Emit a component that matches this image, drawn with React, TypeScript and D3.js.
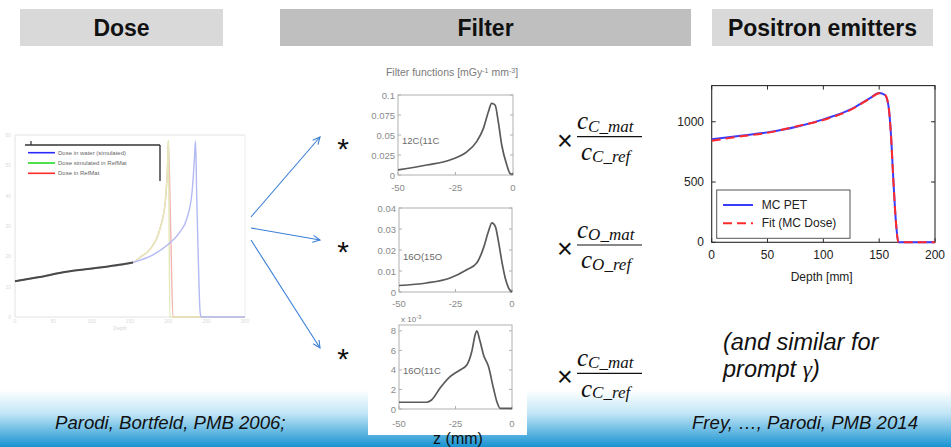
import React from 'react';
import * as d3 from 'd3';

const W = 951;
const H = 447;
const SANS = "'Liberation Sans', Arial, sans-serif";
const SERIF = "'Liberation Serif', 'DejaVu Serif', serif";

// ---------- header ----------
const headerLabels = ['Dose', 'Filter', 'Positron emitters'];

// ---------- dose panel (faded MATLAB figure): depth [mm] vs dose [a.u.] ----------
const doseXTicks = [0, 50, 100, 150, 200, 250, 300];
const doseYTicks = [0, 1, 2, 3, 4, 5, 6];
const doseLegendLabels = ['Dose in water (simulated)', 'Dose simulated in RefMat', 'Dose in RefMat'];
const doseCommon: [number, number][] = [[0, 1.18], [30, 1.31], [67, 1.49], [111, 1.63], [154, 1.8]];
const doseWater: [number, number][] = [
  [0, 1.18], [30, 1.31], [67, 1.49], [111, 1.63], [154, 1.8], [180, 2.05], [200, 2.4], [215, 2.8],
  [224, 3.23], [231, 4.13], [234, 5.2], [235.5, 5.8], [237, 4.0], [239, 2.0], [241.5, 0.15], [243, 0], [300, 0],
];
const doseSimRef: [number, number][] = [
  [0, 1.18], [30, 1.31], [67, 1.49], [111, 1.63], [154, 1.8], [165, 2.0], [176, 2.23], [189, 2.9],
  [196, 3.8], [199, 5.0], [200, 5.8], [201, 3.0], [202, 0], [300, 0],
];
const doseRef: [number, number][] = [
  [0, 1.18], [30, 1.31], [67, 1.49], [111, 1.63], [154, 1.8], [165, 2.0], [176, 2.23], [189, 2.9],
  [196, 3.8], [199, 5.0], [200, 5.8], [203, 3.0], [206, 0], [300, 0],
];

// ---------- filter functions (z in mm) ----------
const filterXTicks = [-50, -25, 0];
const filter12C11C: [number, number][] = [
  [-50, 0.0063], [-37.5, 0.0125], [-27.4, 0.0188], [-20.1, 0.029], [-15.8, 0.0417], [-12.9, 0.058],
  [-10.7, 0.079], [-9.3, 0.0896], [-7.8, 0.0875], [-6.4, 0.0667], [-4.9, 0.0375], [-2.7, 0.0125],
  [-1.3, 0.002], [0, 0.001],
];
const filter16O15O: [number, number][] = [
  [-50, 0.0031], [-37.8, 0.0043], [-27.4, 0.0067], [-20, 0.0106], [-15.6, 0.0138], [-12.6, 0.021],
  [-10.4, 0.0289], [-8.9, 0.0329], [-7.4, 0.0312], [-6, 0.0241], [-4.5, 0.0146], [-3, 0.0067],
  [-1.5, 0.0019], [0, 0],
];
const filter16O11C: [number, number][] = [
  [-50, 0.69], [-37.8, 0.69], [-35.6, 0.92], [-31.9, 2.12], [-27.4, 3.31], [-23, 4.0], [-20, 4.5],
  [-17.8, 5.88], [-16.3, 7.59], [-15.6, 8.0], [-14.1, 6.9], [-12.6, 5.54], [-10.4, 4.34], [-8.2, 2.12],
  [-6.7, 0.75], [-5.2, 0.07], [0, 0.07],
];
const filterYTicks1 = [0, 0.025, 0.05, 0.075, 0.1];
const filterYTickLabels1 = ['0', '0.025', '0.05', '0.075', '0.1'];
const filterYTicks2 = [0, 0.01, 0.02, 0.03, 0.04];
const filterYTickLabels2 = ['0', '0.01', '0.02', '0.03', '0.04'];
const filterYTicks3 = [0, 2, 4, 6, 8];
const filterYTickLabels3 = ['0', '2', '4', '6', '8'];
const filterLabels = ['12C(11C', '16O(15O', '16O(11C'];

// ---------- positron emitters (depth in mm) ----------
const petXTicks = [0, 50, 100, 150, 200];
const petYTicks = [0, 500, 1000];
const petLegendLabels = ['MC PET', 'Fit (MC Dose)'];
const mcPet: [number, number][] = [
  [0, 855], [22.4, 880], [49.8, 912], [76.1, 958], [101.5, 1024], [123.9, 1100], [141.8, 1196],
  [150.1, 1238], [155.2, 1222], [158.2, 1139], [160.3, 932], [162.7, 517], [165.1, 158], [167.2, 0], [200, 0],
];
const fitMcDose: [number, number][] = [
  [0, 842], [22.4, 874], [49.8, 908], [76.1, 962], [101.5, 1019], [123.9, 1096], [141.8, 1194],
  [150.1, 1237], [155.2, 1223], [158.2, 1140], [160.3, 930], [162.7, 515], [165.1, 156], [167.2, 0], [200, 0],
];

type P = [number, number];

function FilterPlot(props: {
  data: P[]; x0: number; x1: number; yTop: number; yBot: number; yMax: number;
  yTicks: number[]; yLabels: string[]; label: string; labelY: number; xLabelY: number;
}) {
  const { data, x0, x1, yTop, yBot, yMax, yTicks, yLabels, label, labelY, xLabelY } = props;
  const x = d3.scaleLinear().domain([-50, 0]).range([x0, x1]);
  const y = d3.scaleLinear().domain([0, yMax]).range([yBot, yTop]);
  const line = d3.line<P>().x(d => x(d[0])).y(d => y(d[1])).curve(d3.curveMonotoneX);
  const tc = '#8a8a8a';
  return (
    <g>
      <rect x={x0} y={yTop} width={x1 - x0} height={yBot - yTop} fill="white" stroke="#b0b0b0" strokeWidth={1} />
      {yTicks.map((t, i) => (
        <g key={'y' + i}>
          <line x1={x0} x2={x0 + 3} y1={y(t)} y2={y(t)} stroke="#b0b0b0" />
          <line x1={x1} x2={x1 - 3} y1={y(t)} y2={y(t)} stroke="#b0b0b0" />
          <text x={x0 - 3} y={y(t)} textAnchor="end" dominantBaseline="central" fontSize={9.5} fill={tc} fontFamily={SANS}>{yLabels[i]}</text>
        </g>
      ))}
      {filterXTicks.map((t, i) => (
        <g key={'x' + i}>
          <line x1={x(t)} x2={x(t)} y1={yBot} y2={yBot - 3} stroke="#b0b0b0" />
          <text x={x(t)} y={xLabelY} textAnchor="middle" dominantBaseline="central" fontSize={9.5} fill={tc} fontFamily={SANS}>{t === 0 ? '0' : String(t)}</text>
        </g>
      ))}
      <path d={line(data) || ''} fill="none" stroke="#5a5a5a" strokeWidth={1.7} strokeLinejoin="round" />
      <text x={x0 + 4} y={labelY} dominantBaseline="central" fontSize={9.5} fill="#6a6a6a" fontFamily={SANS}>{label}</text>
    </g>
  );
}

function Fraction({ bar, num, den }: { bar: number; num: string; den: string }) {
  return (
    <g fontFamily={SERIF} fontStyle="italic" fill="#111">
      <text x={565} y={bar + 13} textAnchor="middle" fontSize={27} fontStyle="normal" fontFamily={SANS}>×</text>
      <text x={577} y={bar - 7.4} fontSize={25}>c<tspan fontSize={17} dy={2.4}>{num}</tspan></text>
      <line x1={577} x2={642} y1={bar} y2={bar} stroke="#111" strokeWidth={1.2} />
      <text x={581} y={bar + 23.3} fontSize={25}>c<tspan fontSize={17} dy={1.7}>{den}</tspan></text>
    </g>
  );
}

function Arrow({ x1, y1, x2, y2 }: { x1: number; y1: number; x2: number; y2: number }) {
  const a = Math.atan2(y2 - y1, x2 - x1);
  const L = 8, s = 0.45;
  const p1 = [x2 - L * Math.cos(a - s), y2 - L * Math.sin(a - s)];
  const p2 = [x2 - L * Math.cos(a + s), y2 - L * Math.sin(a + s)];
  return (
    <g stroke="#3a7fd6" strokeWidth={1.1} fill="none">
      <line x1={x1} y1={y1} x2={x2} y2={y2} />
      <polyline points={`${p1[0]},${p1[1]} ${x2},${y2} ${p2[0]},${p2[1]}`} />
    </g>
  );
}

export default function App() {
  // dose scales
  const dx = d3.scaleLinear().domain([0, 300]).range([15, 245]);
  const dy = d3.scaleLinear().domain([0, 6]).range([317, 135]);
  const dLine = d3.line<P>().x(d => dx(d[0])).y(d => dy(d[1])).curve(d3.curveMonotoneX);

  // pet scales
  const px = d3.scaleLinear().domain([0, 200]).range([711.7, 935]);
  const py = d3.scaleLinear().domain([0, 1300]).range([242.3, 85.6]);
  const pLine = d3.line<P>().x(d => px(d[0])).y(d => py(d[1])).curve(d3.curveMonotoneX);

  const headerBoxes = [
    { x: 20, w: 203, fill: '#d9d9d9' },
    { x: 280, w: 411, fill: '#bfbfbf' },
    { x: 712, w: 221, fill: '#d9d9d9' },
  ];

  return (
    <svg width={W} height={H} viewBox={`0 0 ${W} ${H}`} style={{ position: 'absolute', left: 0, top: 0, background: 'white' }}>
      <defs>
        <linearGradient id="band" x1="0" y1="0" x2="0" y2="1">
          <stop offset="0" stopColor="#ffffff" />
          <stop offset="0.4" stopColor="#c4e7f7" />
          <stop offset="1" stopColor="#1893d1" />
        </linearGradient>
      </defs>
      <rect x={0} y={0} width={W} height={H} fill="white" />
      <rect x={0} y={390} width={W} height={H - 390} fill="url(#band)" />

      {/* headers */}
      {headerBoxes.map((b, i) => (
        <g key={i}>
          <rect x={b.x} y={9} width={b.w} height={37} fill={b.fill} />
          <text x={b.x + b.w / 2} y={36} textAnchor="middle" fontFamily={SANS} fontWeight="bold" fontSize={23} fill="#111">{headerLabels[i]}</text>
        </g>
      ))}

      {/* dose panel */}
      <g>
        <line x1={15} x2={245} y1={135} y2={135} stroke="#e2e2e2" />
        <line x1={15} x2={15} y1={135} y2={317} stroke="#e2e2e2" />
        <line x1={245} x2={245} y1={135} y2={317} stroke="#ececec" />
        <line x1={15} x2={245} y1={317} y2={317} stroke="#e2e2e2" />
        {doseXTicks.map((t, i) => (
          <text key={i} x={dx(t)} y={323} textAnchor="middle" fontSize={5} fill="#dadada" fontFamily={SANS}>{t}</text>
        ))}
        {doseYTicks.map((t, i) => (
          <text key={i} x={11} y={dy(t) + 2} textAnchor="end" fontSize={5} fill="#dadada" fontFamily={SANS}>{t * 10}</text>
        ))}
        <text x={120} y={330} textAnchor="middle" fontSize={5} fill="#d6d6d6" fontFamily={SANS}>Depth</text>
        <path d={dLine(doseRef) || ''} fill="none" stroke="#f2b4b4" strokeWidth={1.4} />
        <path d={dLine(doseSimRef) || ''} fill="none" stroke="#e3e9b8" strokeWidth={1.4} />
        <path d={dLine(doseWater) || ''} fill="none" stroke="#b3b9f3" strokeWidth={1.4} />
        <path d={dLine(doseCommon) || ''} fill="none" stroke="#4a4a4a" strokeWidth={2} />
        {/* legend */}
        <rect x={25} y={145} width={135} height={35} fill="white" />
        <line x1={25} x2={160} y1={145} y2={145} stroke="#333" strokeWidth={1.4} />
        <line x1={160} x2={160} y1={145} y2={181} stroke="#333" strokeWidth={1.4} />
        <line x1={31} x2={31} y1={141} y2={145} stroke="#333" strokeWidth={1.2} />
        {doseLegendLabels.map((l, i) => (
          <g key={i}>
            <line x1={28} x2={55} y1={152.7 + i * 10.3} y2={152.7 + i * 10.3} stroke={['#2a2aff', '#22dd22', '#ff2a2a'][i]} strokeWidth={1.6} />
            <text x={58} y={152.7 + i * 10.3} dominantBaseline="central" fontSize={6} fill="#666" fontFamily={SANS}>{l}</text>
          </g>
        ))}
      </g>

      {/* arrows and convolution symbols */}
      <Arrow x1={251} y1={217} x2={320} y2={137} />
      <Arrow x1={251} y1={228} x2={320} y2={240} />
      <Arrow x1={251} y1={240} x2={320} y2={348} />
      {[142, 245, 352].map((cy, i) => (
        <text key={i} x={343} y={cy + 17} textAnchor="middle" fontSize={30} fontFamily={SANS} fill="#111">*</text>
      ))}

      {/* filter panel */}
      <rect x={368} y={67} width={159} height={368} fill="white" />
      <text x={452} y={76} textAnchor="middle" fontSize={10.5} fill="#7a7a7a" fontFamily={SANS}>
        Filter functions [mGy<tspan dy={-3.5} fontSize={7}>-1</tspan><tspan dy={3.5}> mm</tspan><tspan dy={-3.5} fontSize={7}>-3</tspan><tspan dy={3.5}>]</tspan>
      </text>
      <FilterPlot data={filter12C11C} x0={398} x1={513} yTop={95} yBot={175} yMax={0.1}
        yTicks={filterYTicks1} yLabels={filterYTickLabels1} label={filterLabels[0]} labelY={140} xLabelY={187} />
      <FilterPlot data={filter16O15O} x0={399} x1={512} yTop={208} yBot={292} yMax={0.04}
        yTicks={filterYTicks2} yLabels={filterYTickLabels2} label={filterLabels[1]} labelY={256.5} xLabelY={303.5} />
      <FilterPlot data={filter16O11C} x0={399} x1={512} yTop={325} yBot={409} yMax={8.6}
        yTicks={filterYTicks3} yLabels={filterYTickLabels3} label={filterLabels[2]} labelY={370} xLabelY={423.5} />
      <text x={401} y={322} fontSize={8} fill="#7a7a7a" fontFamily={SANS}>x 10<tspan dy={-3} fontSize={6}>-3</tspan></text>
      <text x={458} y={444} textAnchor="middle" fontSize={16} fill="#111" fontFamily={SANS}>z (mm)</text>

      {/* fractions */}
      <Fraction bar={136.7} num="C_mat" den="C_ref" />
      <Fraction bar={245} num="O_mat" den="O_ref" />
      <Fraction bar={373.3} num="C_mat" den="C_ref" />

      {/* positron emitters chart */}
      <g fontFamily={SANS}>
        <rect x={711.7} y={85.6} width={935 - 711.7} height={242.3 - 85.6} fill="white" stroke="#2a2a2a" strokeWidth={1.1} />
        {petYTicks.map((t, i) => (
          <g key={i}>
            <line x1={711.7} x2={715.7} y1={py(t)} y2={py(t)} stroke="#2a2a2a" />
            <line x1={935} x2={931} y1={py(t)} y2={py(t)} stroke="#2a2a2a" />
            <text x={704} y={py(t)} textAnchor="end" dominantBaseline="central" fontSize={12} fill="#222">{t}</text>
          </g>
        ))}
        {petXTicks.map((t, i) => (
          <g key={i}>
            <line x1={px(t)} x2={px(t)} y1={242.3} y2={238.3} stroke="#2a2a2a" />
            <line x1={px(t)} x2={px(t)} y1={85.6} y2={89.6} stroke="#2a2a2a" />
            <text x={px(t)} y={255} textAnchor="middle" dominantBaseline="central" fontSize={12} fill="#222">{t}</text>
          </g>
        ))}
        <text x={821.7} y={277} textAnchor="middle" dominantBaseline="central" fontSize={12} fill="#222">Depth [mm]</text>
        <path d={pLine(mcPet) || ''} fill="none" stroke="#3b3bff" strokeWidth={2} />
        <path d={pLine(fitMcDose) || ''} fill="none" stroke="#ff2b2b" strokeWidth={2} strokeDasharray="9,5" />
        <rect x={716.7} y={190} width={133.3} height={48.3} fill="white" stroke="#555" strokeWidth={1} />
        <line x1={723} x2={753} y1={205} y2={205} stroke="#3b3bff" strokeWidth={2} />
        <line x1={723} x2={753} y1={223.3} y2={223.3} stroke="#ff2b2b" strokeWidth={2} strokeDasharray="9,5" />
        <text x={761.7} y={205} dominantBaseline="central" fontSize={12} fill="#222">{petLegendLabels[0]}</text>
        <text x={761.7} y={223.3} dominantBaseline="central" fontSize={12} fill="#222">{petLegendLabels[1]}</text>
      </g>

      {/* notes */}
      <text x={723} y={350} fontSize={23.5} fontStyle="italic" fontFamily={SANS} fill="#111">(and similar for</text>
      <text x={723} y={377} fontSize={23.5} fontStyle="italic" fontFamily={SANS} fill="#111">
        prompt <tspan fontFamily="'Liberation Serif', serif">γ</tspan>)
      </text>

      {/* citations */}
      <text x={55} y={429} fontSize={18.6} fontStyle="italic" fontFamily={SANS} fill="#111">Parodi, Bortfeld, PMB 2006;</text>
      <text x={692} y={429} fontSize={18.6} fontStyle="italic" fontFamily={SANS} fill="#111">Frey, …, Parodi, PMB 2014</text>
    </svg>
  );
}
